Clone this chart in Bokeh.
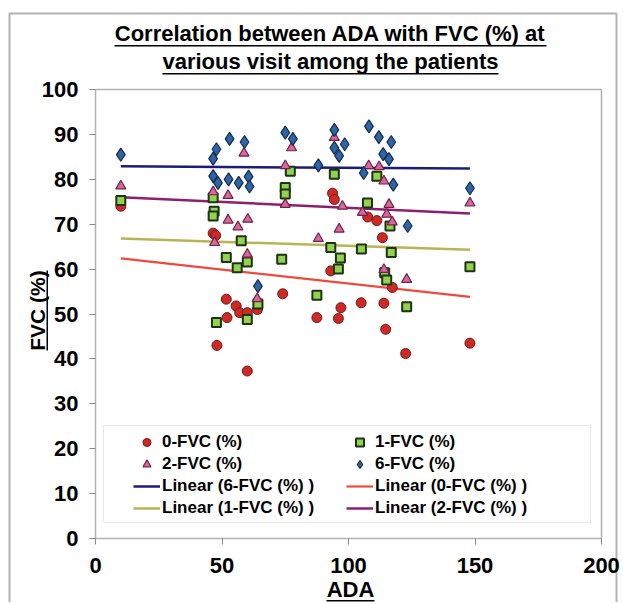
from bokeh.plotting import figure
from bokeh.models import (Range1d, Legend, LegendItem, Label, BoxAnnotation,
                          FixedTicker)
from bokeh.embed import file_html
from bokeh.resources import INLINE
import numpy as np

# ---------------- data ----------------
ada_0 = [10, 46.5, 47.5, 48, 51.7, 52, 55.6, 57, 60, 60, 64, 74, 87.5, 93, 93.7,
         94.4, 96, 97, 105, 107.6, 111.2, 113.4, 114, 114.7, 117.3, 122.6, 148]
fvc_0 = [74, 68, 67.5, 43, 53.3, 49.2, 51.8, 50.3, 50.3, 37.3, 51, 54.5, 49.2, 59.6, 76.9,
         75.5, 49, 51.4, 52.5, 71.6, 70.8, 67, 52.4, 46.6, 55.9, 41.2, 43.5]

ada_1 = [10, 46.5, 46.9, 46.5, 47.8, 51.7, 56, 57.6, 60, 60, 64.2, 73.6, 75, 75, 77,
         87.5, 93, 94.4, 96, 96.8, 105.1, 107.5, 111.2, 114.3, 115.1, 116.4, 116.9, 123, 148]
fvc_1 = [75.3, 75.9, 72.9, 71.8, 48.1, 62.6, 60.3, 66.3, 61.6, 48.8, 52.2, 62.2, 78.2, 76.7, 81.8,
         54.2, 64.8, 81.1, 60, 62.5, 64.5, 74.7, 80.7, 59.2, 57.6, 69.6, 63.7, 51.6, 60.5]

ada_2 = [10, 46.5, 47.1, 52.4, 52.4, 56.3, 58.7, 60.2, 60, 63.9, 75, 75, 77.5, 88.1,
         94.4, 96.3, 97.6, 105.5, 108, 112.1, 114, 114, 115.1, 116, 117.3, 123, 148]
fvc_2 = [78.5, 77.2, 65.9, 76.4, 70.9, 69.4, 85.8, 71.1, 63.3, 53.4, 83, 74.4, 87, 66.8,
         89.3, 68.9, 74, 72.6, 83, 82.8, 79.6, 59.9, 72.2, 74.4, 70.5, 57.7, 74.7]

ada_6 = [10, 46.5, 47.8, 46.5, 48.4, 52.6, 53, 56.6, 58.9, 60.5, 60.9, 64.2, 75, 78,
         88.1, 94.4, 94.4, 96.3, 98.5, 106, 108.1, 112, 113.7, 116, 116.9, 117.7, 123.4, 148]
fvc_6 = [85.5, 84.6, 86.7, 80.7, 79.2, 80, 89, 79.2, 88.3, 80.6, 78.4, 56.2, 90.4, 89,
         83.1, 91, 87, 85.2, 87.8, 81.4, 91.8, 89.4, 85.6, 84.5, 88.3, 78.8, 69.6, 78]

# linear trend lines (FVC at the lowest / highest ADA)
trend_ada = [10, 148]
trend_0 = [62.4, 53.8]
trend_1 = [66.8, 64.3]
trend_2 = [76.0, 72.4]
trend_6 = [82.9, 82.4]

series_labels = ["0-FVC (%)", "1-FVC (%)", "2-FVC (%)", "6-FVC (%)"]
trend_labels = ["Linear (0-FVC (%) )", "Linear (1-FVC (%) )",
                "Linear (2-FVC (%) )", "Linear (6-FVC (%) )"]
x_ticks = [0, 50, 100, 150, 200]
y_ticks = [0, 10, 20, 30, 40, 50, 60, 70, 80, 90, 100]

FONT = "Liberation Sans"

# ---------------- layout (pixels) ----------------
W, H = 620, 602
PX_L, PX_R = 95, 601      # canvas x of ADA 0 and ADA 200
PY_T, PY_B = 89, 538      # canvas y of FVC 100 and FVC 0
sx = (PX_R - PX_L) / 200.0
sy = (PY_B - PY_T) / 100.0

p = figure(width=W, height=H, output_backend="svg", toolbar_location=None,
           x_range=Range1d(-PX_L / sx, (W - PX_L) / sx),
           y_range=Range1d((PY_B - H) / sy, PY_B / sy),
           min_border=0, min_border_left=0, min_border_right=0,
           min_border_top=0, min_border_bottom=0)
p.background_fill_color = "white"
p.border_fill_color = "white"
p.outline_line_color = None
p.grid.visible = False

for ax in (p.xaxis[0], p.yaxis[0]):
    ax.fixed_location = 0
    ax.axis_line_color = None
    ax.major_tick_line_color = "#888888"
    ax.major_tick_line_width = 1
    ax.major_tick_in = 0
    ax.major_tick_out = 6
    ax.minor_tick_line_color = None
    ax.major_label_text_font = FONT
    ax.major_label_text_font_style = "bold"
    ax.major_label_text_font_size = "22px"
    ax.major_label_text_color = "black"
p.xaxis[0].ticker = FixedTicker(ticks=x_ticks)
p.yaxis[0].ticker = FixedTicker(ticks=y_ticks)
p.xaxis[0].major_label_standoff = 13
p.yaxis[0].major_label_standoff = 11


def scr_box(l, r, b, t, **kw):
    return BoxAnnotation(left=l, right=r, bottom=b, top=t,
                         left_units="screen", right_units="screen",
                         bottom_units="screen", top_units="screen", **kw)


# plot area frame (data 0..200 x 0..100)
p.add_layout(BoxAnnotation(left=0, right=200, bottom=0, top=100,
                           fill_alpha=0, line_color="black", line_width=1.5,
                           level="underlay"))
# legend box
p.add_layout(scr_box(103, 590, H - 522, H - 425, fill_color="white", fill_alpha=1,
                     line_color="#b0b0b0", line_width=1, level="underlay"))

l0 = p.line(trend_ada, trend_0, line_color="#ee4a3c", line_width=2.2)
l1 = p.line(trend_ada, trend_1, line_color="#b8b456", line_width=2.5)
l2 = p.line(trend_ada, trend_2, line_color="#8e1f6e", line_width=2.5)
l6 = p.line(trend_ada, trend_6, line_color="#1c1c78", line_width=2.5)

r0 = p.scatter(ada_0, fvc_0, marker="circle", size=10, fill_color="#cc2a26",
               line_color="#7a1512", line_width=1)
r1 = p.scatter(ada_1, fvc_1, marker="square", size=9, fill_color="#93d150",
               line_color="#1d3312", line_width=2)
r2 = p.scatter(ada_2, fvc_2, marker="triangle", size=10, fill_color="#d8679c",
               line_color="#6e2448", line_width=1.2)
r6 = p.scatter(ada_6, fvc_6, marker="diamond", size=13,
               fill_color="#2f64a6", line_color="#142c4c", line_width=1.2)

items = [
    LegendItem(label=series_labels[0], renderers=[r0]),
    LegendItem(label=series_labels[2], renderers=[r2]),
    LegendItem(label=trend_labels[3], renderers=[l6]),
    LegendItem(label=trend_labels[1], renderers=[l1]),
    LegendItem(label=series_labels[1], renderers=[r1]),
    LegendItem(label=series_labels[3], renderers=[r6]),
    LegendItem(label=trend_labels[0], renderers=[l0]),
    LegendItem(label=trend_labels[2], renderers=[l2]),
]
legend = Legend(items=items, location=(133, H - 518), orientation="vertical", ncols=2,
                padding=0, margin=0, spacing=2, glyph_width=27, glyph_height=20,
                label_height=20, label_standoff=2, label_width=182,
                label_text_font=FONT, label_text_font_style="bold",
                label_text_font_size="17px", label_text_color="black",
                background_fill_alpha=0, border_line_alpha=0)
p.add_layout(legend)


def lab(text, x, y, size="22px", angle=0.0):
    # x, y: canvas pixels from the top-left
    p.add_layout(Label(x=x, y=H - y, x_units="screen", y_units="screen", text=text,
                       text_font=FONT, text_font_style="bold", text_font_size=size,
                       text_align="center", text_baseline="middle", angle=angle,
                       text_color="black"))


def uline(x0, x1, y0, y1):
    # canvas pixels from the top-left
    p.add_layout(scr_box(x0, x1, H - y1, H - y0, fill_color="black", fill_alpha=1,
                         line_alpha=0))


lab("Correlation between ADA with FVC (%) at", 330, 33)
uline(114, 546, 44.5, 46)
lab("various visit among the patients", 330, 61)
uline(162, 498, 72.5, 74)
lab("FVC (%)", 37, 310, size="21px", angle=np.pi / 2)
uline(46, 47.5, 270, 350)
lab("ADA", 350, 589)
uline(326, 374, 599.5, 601)

# outer border of the chart
p.add_layout(scr_box(9, 616, -10, H - 13, fill_alpha=0, line_color="black",
                     line_width=2))

open("out.html", "w").write(file_html(p, INLINE))
